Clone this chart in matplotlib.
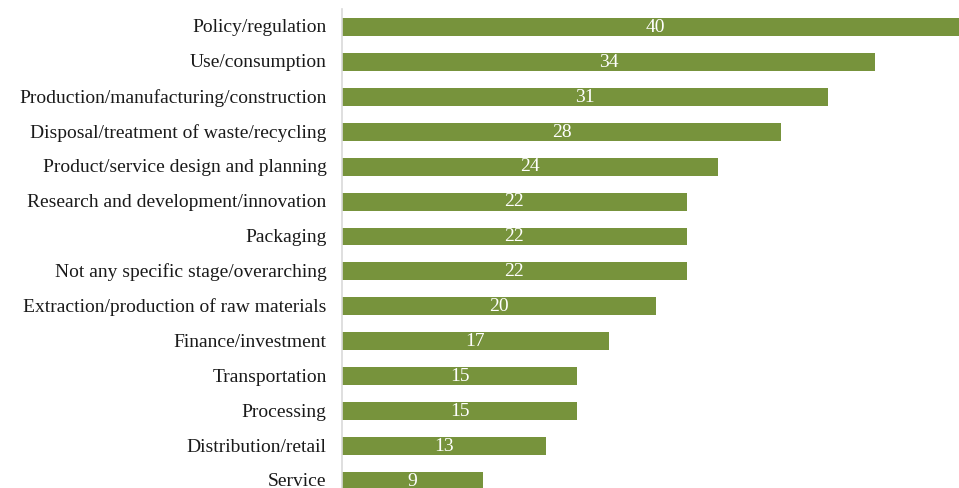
import matplotlib.pyplot as plt
from matplotlib.transforms import ScaledTranslation

# categories and counts, top to bottom
categories = [
    'Policy/regulation',
    'Use/consumption',
    'Production/manufacturing/construction',
    'Disposal/treatment of waste/recycling',
    'Product/service design and planning',
    'Research and development/innovation',
    'Packaging',
    'Not any specific stage/overarching',
    'Extraction/production of raw materials',
    'Finance/investment',
    'Transportation',
    'Processing',
    'Distribution/retail',
    'Service',
]
counts = [40, 34, 31, 28, 24, 22, 22, 22, 20, 17, 15, 15, 13, 9]

bar_color = '#77933C'
plt.rcParams['font.family'] = ['Liberation Serif', 'DejaVu Serif']

fig = plt.figure(figsize=(9.59, 4.89), dpi=100)
ax = fig.add_axes([342 / 959, 0, 1 - 342 / 959, 479 / 489])

ypos = list(range(len(categories)))
ax.barh(ypos, counts, height=0.514, color=bar_color)

for y, v in zip(ypos, counts):
    ax.text(v / 2, y - 0.02, str(v), color='white', fontsize=14,
            ha='center', va='center')

ax.set_yticks(ypos)
ax.set_yticklabels(categories, fontsize=14, color='#1a1a1a')
ax.tick_params(axis='y', length=0, pad=11)
ax.set_xticks([])
ax.set_xlim(0, 39.35)
ax.set_ylim(13.2, -0.514)

# nudge the category labels up a touch so the last one fits
shift = ScaledTranslation(0, 1.5 / 72, fig.dpi_scale_trans)
for lbl in ax.get_yticklabels():
    lbl.set_transform(lbl.get_transform() + shift)

for side in ['top', 'right', 'bottom']:
    ax.spines[side].set_visible(False)
ax.spines['left'].set_color('#D9D9D9')
ax.spines['left'].set_linewidth(1.2)

fig.savefig('out.png', dpi=100)
